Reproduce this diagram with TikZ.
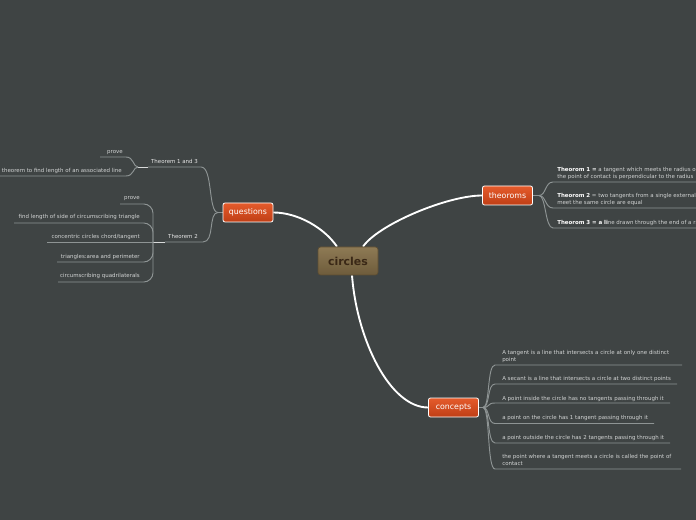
\documentclass[tikz,border=0pt]{standalone}
\usepackage{fontspec}
\setmainfont{DejaVu Sans}
\usetikzlibrary{calc,backgrounds}
\definecolor{bgc}{HTML}{3F4444}
\definecolor{itemtext}{HTML}{D2D4D4}
\definecolor{labeltext}{HTML}{E6E6E6}
\definecolor{linegray}{HTML}{8E9494}
\definecolor{lightline}{HTML}{D8DADA}
\definecolor{orangetop}{HTML}{E55B2B}
\definecolor{orangebot}{HTML}{BF3E16}
\definecolor{browntop}{HTML}{8E7A55}
\definecolor{brownbot}{HTML}{6E5C3B}
\definecolor{brownedge}{HTML}{5E4E32}
\definecolor{browntext}{HTML}{3A2816}
\begin{document}
\begin{tikzpicture}[x=0.75pt,y=-0.75pt,
  small/.style={font=\fontsize{4.1pt}{5.2pt}\selectfont, text=itemtext, inner sep=0pt},
  branchlabel/.style={font=\fontsize{4.1pt}{5.2pt}\selectfont, text=labeltext, inner sep=0pt},
  mainnode/.style={draw=white, line width=0.6pt, rounded corners=1.5pt, top color=orangetop, bottom color=orangebot, text=white, font=\fontsize{5.9pt}{6.5pt}\selectfont, minimum width=37.5pt, minimum height=14.25pt, inner sep=0pt},
  centralnode/.style={draw=brownedge, line width=0.5pt, rounded corners=2pt, top color=browntop, bottom color=brownbot, text=browntext, font=\bfseries\fontsize{8.2pt}{9pt}\selectfont, minimum width=45pt, minimum height=21pt, inner sep=0pt},
  mainline/.style={draw=white, line width=1.4pt},
  subline/.style={draw=linegray, line width=0.7pt},
  hiline/.style={draw=lightline, line width=0.7pt}]
\useasboundingbox (0,0) rectangle (696,520);
\clip (0,0) rectangle (696,520);
\begin{scope}[on background layer]
\fill[bgc] (0,0) rectangle (696,520);
\end{scope}

% main nodes
\node[centralnode] (c) at (348,261) {circles};
\node[mainnode] (q) at (248,212.5) {questions};
\node[mainnode] (t) at (507.5,195.5) {theoroms};
\node[mainnode] (co) at (453.5,407.5) {concepts};

% ---------- theoroms children ----------
\coordinate (jt) at (539,195.5);
\coordinate (T1s) at (553,182); \coordinate (T1e) at (700,182);
\coordinate (T2s) at (553,208); \coordinate (T2e) at (700,208);
\coordinate (T3s) at (553,228); \coordinate (T3e) at (700,228);
\node[small, anchor=base west, align=left] (T1) at (557,178.6)
  {\textbf{\color{white}Theorom 1 =} a tangent which meets the radius of a circle at\\the point of contact is perpendicular to the radius};
\node[small, anchor=base west, align=left] (T2) at (557,204.6)
  {\textbf{\color{white}Theorom 2} = two tangents from a single external point that\\meet the same circle are equal};
\node[small, anchor=base west, align=left] (T3) at (557,224.4)
  {\textbf{\color{white}Theorom 3 = a li}ne drawn through the end of a radius};

% ---------- concepts children ----------
\coordinate (jc) at (483,407.5);
\coordinate (C1s) at (495,365);   \coordinate (C1e) at (682,365);
\coordinate (C2s) at (495,384);   \coordinate (C2e) at (677,384);
\coordinate (C3s) at (495,403);   \coordinate (C3e) at (670,403);
\coordinate (C4s) at (495,423.5); \coordinate (C4e) at (654,423.5);
\coordinate (C5s) at (495,443);   \coordinate (C5e) at (670,443);
\coordinate (C6s) at (495,469);   \coordinate (C6e) at (681,469);
\node[small, anchor=base west, align=left] (C1) at (502,361.4)
  {A tangent is a line that intersects a circle at only one distinct\\point};
\node[small, anchor=base west] (C2) at (502,380.6)
  {A secant is a line that intersects a circle at two distinct points};
\node[small, anchor=base west] (C3) at (502,400)
  {A point inside the circle has no tangents passing through it};
\node[small, anchor=base west] (C4) at (502,419.6)
  {a point on the circle has 1 tangent passing through it};
\node[small, anchor=base west] (C5) at (502,439.2)
  {a point outside the circle has 2 tangents passing through it};
\node[small, anchor=base west, align=left] (C6) at (502,465)
  {the point where a tangent meets a circle is called the point of\\contact};

% ---------- questions children ----------
\coordinate (jq) at (218,212.5);
\coordinate (u13e) at (201,167); \coordinate (u13s) at (148,167); \coordinate (j13) at (138,167);
\coordinate (u2e) at (203,242); \coordinate (u2s) at (165,242); \coordinate (j2) at (153,242);
\node[branchlabel, anchor=base] (L13) at (174.5,163.4) {Theorem 1 and 3};
\node[branchlabel, anchor=base] (L2) at (183,238.4) {Theorem 2};

\coordinate (P1s) at (100,157); \coordinate (P1e) at (126,157);
\coordinate (A1s) at (-5,176);  \coordinate (A1e) at (126,176);
\node[small, anchor=base east] (P1) at (123,153.4) {prove};
\node[small, anchor=base east] (A1) at (122,172.6) {theorem to find length of an associated line};

\coordinate (P2s) at (120,204);
\coordinate (F2s) at (14,223);
\coordinate (K2s) at (47,242);
\coordinate (R2s) at (57,262);
\coordinate (Q2s) at (58,282);
\node[small, anchor=base east] (P2) at (140,200) {prove};
\node[small, anchor=base east] (F2) at (140,219) {find length of side of circumscribing triangle};
\node[small, anchor=base east] (K2) at (140,238.4) {concentric circles chord/tangent};
\node[small, anchor=base east] (R2) at (140,258.4) {triangles:area and perimeter};
\node[small, anchor=base east] (Q2) at (140,277.8) {circumscribing quadrilaterals};

% ---------- connectors ----------
\begin{scope}[on background layer]
\draw[mainline] ($(c.north)+(-11,0)$) .. controls +(-12,-18) and +(25,0) .. (q.east);
\draw[mainline] ($(c.north)+(15,0)$) .. controls +(15,-22) and +(-35,0) .. (t.west);
\draw[mainline] ($(c.south)+(4,0)$) .. controls +(5,65) and +(-38,0) .. (co.west);

\draw[subline] (t.east) -- (jt);
\draw[subline] (jt) .. controls +(7,0) and +(-8,0) .. (T1s) -- (T1e);
\draw[subline] (jt) .. controls +(7,0) and +(-8,0) .. (T2s) -- (T2e);
\draw[subline] (jt) .. controls +(7,0) and +(-8,0) .. (T3s) -- (T3e);

\draw[subline] (co.east) -- (jc);
\foreach \k in {C1,C2,C3,C4,C5,C6}
  \draw[subline] (jc) .. controls +(7,0) and +(-8,0) .. (\k s) -- (\k e);

\draw[subline] (q.west) -- (jq);
\draw[subline] (jq) .. controls +(-10,0) and +(12,0) .. (u13e) -- (u13s);
\draw[hiline] (u13s) -- (j13);
\draw[subline] (jq) .. controls +(-10,0) and +(12,0) .. (u2e) -- (u2s);
\draw[hiline] (u2s) -- (j2);

\draw[subline] (P1s) -- (P1e) .. controls +(8,0) and +(-5,0) .. (j13);
\draw[subline] (A1s) -- (A1e) .. controls +(8,0) and +(-5,0) .. (j13);

\draw[subline, rounded corners=7pt] (P2s) -- (P2s -| j2) -- (j2);
\draw[subline, rounded corners=7pt] (F2s) -- (F2s -| j2) -- (j2);
\draw[subline] (K2s) -- (j2);
\draw[subline, rounded corners=7pt] (R2s) -- (R2s -| j2) -- (j2);
\draw[subline, rounded corners=7pt] (Q2s) -- (Q2s -| j2) -- (j2);
\end{scope}
\end{tikzpicture}
\end{document}
